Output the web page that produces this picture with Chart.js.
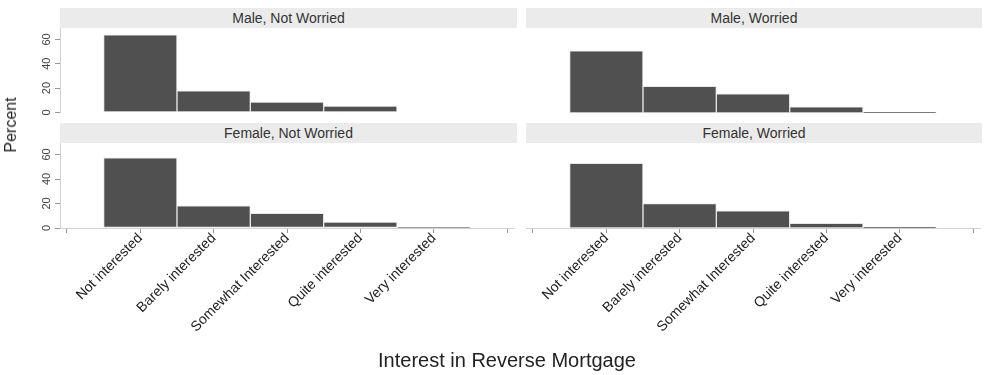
<!DOCTYPE html>
<html>
<head>
<meta charset="utf-8">
<script src="https://cdn.jsdelivr.net/npm/chart.js@4"></script>
<style>
  body { margin: 0; background: #fff; font-family: "Liberation Sans", Arial, sans-serif; }
  #wrap { position: relative; width: 991px; height: 375px; overflow: hidden; }
  canvas { position: absolute; }
  .strip { position: absolute; height: 20px; line-height: 20px; background: #ebebeb;
           color: #333; font-size: 14px; text-align: center; }
  .ytitle { position: absolute; left: 11px; top: 125px; font-size: 16px; color: #222;
            transform: translate(-50%, -50%) rotate(-90deg); white-space: nowrap; }
  .xtitle { position: absolute; left: 507px; top: 360px; font-size: 20px; color: #222;
            transform: translate(-50%, -50%); white-space: nowrap; }
</style>
</head>
<body>
<div id="wrap">
  <div class="strip" style="left:60px;top:8px;width:457px">Male, Not Worried</div>
  <div class="strip" style="left:526px;top:8px;width:456px">Male, Worried</div>
  <div class="strip" style="left:60px;top:123px;width:457px">Female, Not Worried</div>
  <div class="strip" style="left:526px;top:123px;width:456px">Female, Worried</div>
  <canvas id="maleNW" style="left:0;top:20px" width="517" height="101"></canvas>
  <canvas id="maleW" style="left:526px;top:20px" width="454" height="101"></canvas>
  <canvas id="femNW" style="left:0;top:135px" width="517" height="240"></canvas>
  <canvas id="femW" style="left:526px;top:135px" width="465" height="240"></canvas>
  <div class="ytitle">Percent</div>
  <div class="xtitle">Interest in Reverse Mortgage</div>
</div>
<script>
const categories = ['Not interested', 'Barely interested', 'Somewhat Interested', 'Quite interested', 'Very interested'];
const maleNotWorried = [63.8, 17.8, 8.4, 5.2, 0];
const maleWorried = [50.4, 21.6, 15.6, 5.1, 0.6];
const femaleNotWorried = [57.3, 18.1, 11.9, 4.9, 0.5];
const femaleWorried = [52.5, 19.7, 14.0, 3.8, 0.5];
const yTicks = [0, 20, 40, 60];

const font = "'Liberation Sans', Arial, sans-serif";

// one facet: bars at x = 1..5 on a linear axis running from 0 to 6
function makePanel(id, values, showY, showX) {
  const points = values.map((v, i) => ({ x: i + 1, y: v }));
  new Chart(document.getElementById(id), {
    type: 'bar',
    data: {
      datasets: [{
        data: points,
        backgroundColor: '#505050',
        borderColor: '#e6e6e6',
        borderWidth: 1,
        borderSkipped: false,
        barPercentage: 1,
        categoryPercentage: 1
      }]
    },
    options: {
      responsive: false,
      animation: false,
      layout: { padding: { left: 0, right: showY ? 3 : (showX ? 11 : 0), top: 8, bottom: showX ? 0 : 8 } },
      plugins: { legend: { display: false }, tooltip: { enabled: false } },
      scales: {
        x: {
          type: 'linear',
          display: showX,
          offset: false,
          min: -0.095,
          max: 6.095,
          afterBuildTicks: s => { s.ticks = [0, 1, 2, 3, 4, 5, 6].map(v => ({ value: v })); },
          afterFit: s => { if (showX) s.height = 147; },
          border: { color: '#d2d2d2', width: 1 },
          grid: { offset: false, drawOnChartArea: false, tickLength: 5, tickColor: '#999' },
          ticks: {
            minRotation: 45, maxRotation: 45, autoSkip: false, padding: -3,
            color: '#222', font: { family: font, size: 14 },
            callback: v => categories[v - 1] || ''
          }
        },
        y: {
          display: showY,
          min: 0,
          max: 68.9,
          afterBuildTicks: s => { s.ticks = yTicks.map(v => ({ value: v })); },
          afterFit: s => { if (showY) s.width = 60; },
          border: { color: '#d2d2d2', width: 1 },
          grid: { drawOnChartArea: false, tickLength: 5, tickColor: '#999' },
          ticks: {
            minRotation: 90, maxRotation: 90, crossAlign: 'center', padding: 2,
            color: '#444', font: { family: font, size: 11 }
          }
        }
      }
    }
  });
}

makePanel('maleNW', maleNotWorried, true, false);
makePanel('maleW', maleWorried, false, false);
makePanel('femNW', femaleNotWorried, true, true);
makePanel('femW', femaleWorried, false, true);
</script>
</body>
</html>
